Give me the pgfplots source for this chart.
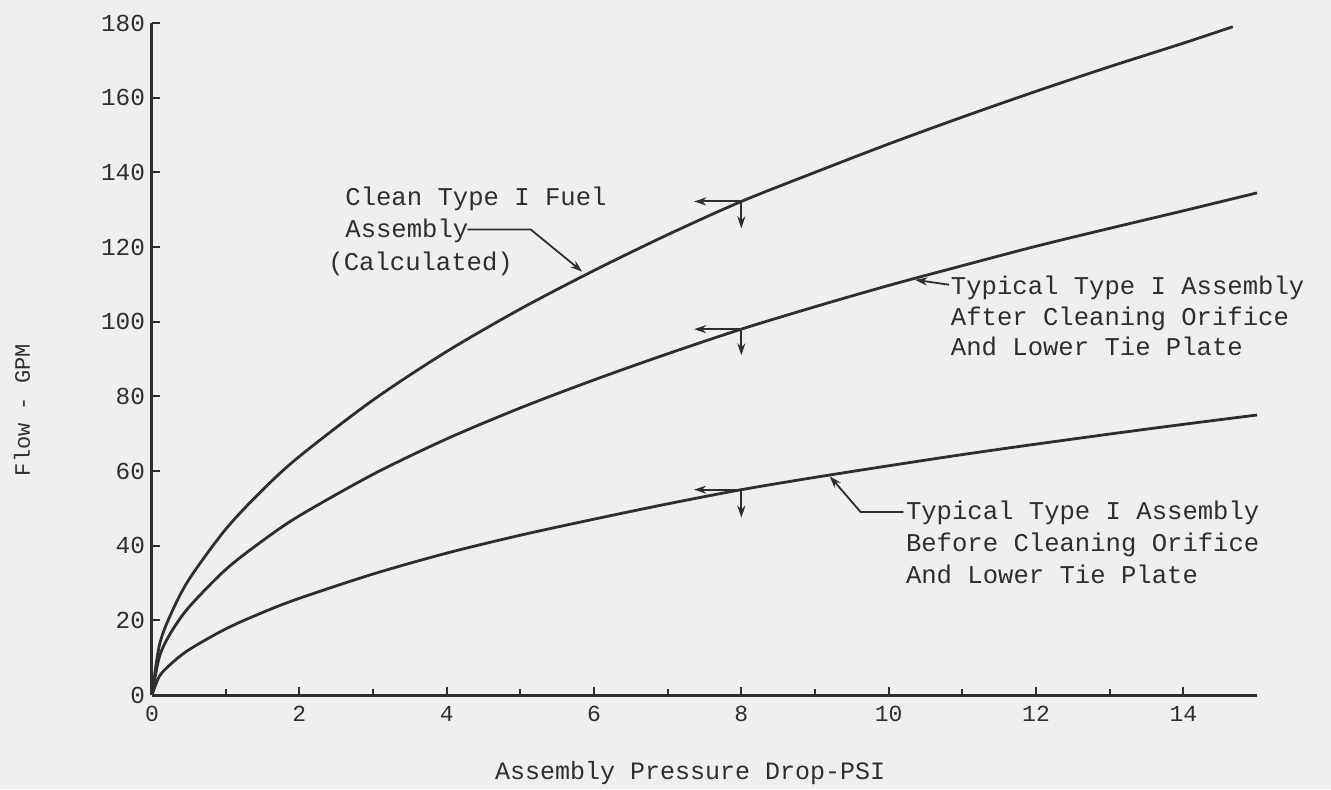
\documentclass[border=0pt]{standalone}
\usepackage{fontspec}
\setmainfont{Liberation Mono}
\usepackage{pgfplots}
\usepackage{pgfplotstable}
\pgfplotsset{compat=1.18}
\usetikzlibrary{arrows.meta}
\definecolor{ink}{HTML}{2E2E2E}
\definecolor{paper}{HTML}{EFEFEF}

\pgfplotstableread{
x y
0 0
0.1 13.3
0.25 21.4
0.5 30.9
1 44.4
1.5 54.9
2 63.9
3 79
4 92
5 103.4
6 113.7
7 123.3
8 132.2
9 140
10 147.6
11 154.8
12 161.7
13 168.3
14 174.6
14.67 179
}\clean

\pgfplotstableread{
x y
0 0
0.1 10.2
0.25 16.5
0.5 23.5
1 33.6
1.5 41.3
2 48
3 59.1
4 68.6
5 76.9
6 84.4
7 91.4
8 98
9 104
10 109.7
11 115
12 120.2
13 125
14 129.7
15 134.5
}\after

\pgfplotstableread{
x y
0 0
0.1 5
0.25 8.2
0.5 12.1
1 17.7
1.5 22.1
2 25.9
3 32.4
4 38
5 42.8
6 47.1
7 51.2
8 55
9 58.3
10 61.4
11 64.4
12 67.2
13 69.9
14 72.5
15 75
}\before

\newcommand{\lab}{\fontsize{12.8}{16.5}\selectfont}

\begin{document}
\begin{tikzpicture}
\fill[paper] (-76pt,-47pt) rectangle (589.5pt,347.5pt);
\begin{axis}[
  at={(0,0)}, anchor=south west,
  scale only axis, width=552.5pt, height=336pt,
  xmin=0, xmax=15, ymin=0, ymax=180,
  axis lines=left,
  axis line style={-, ink, line width=1.5pt},
  xtick={0,2,...,14}, minor xtick={1,3,...,13},
  ytick={0,20,...,180},
  tick pos=left,
  tick align=inside,
  major tick length=4pt, minor tick length=3pt,
  every tick/.style={ink, line width=1pt},
  /pgf/number format/assume math mode=true,
  x tick label style={font=\fontsize{11.5}{13}\selectfont, text=ink, yshift=-2pt},
  y tick label style={font=\fontsize{12.2}{14}\selectfont, text=ink},
  xlabel={Assembly Pressure Drop-PSI},
  ylabel={Flow - GPM},
  xlabel style={font=\fontsize{12.5}{14}\selectfont, text=ink, at={(axis description cs:0.487,-0.116)}, anchor=center},
  ylabel style={font=\fontsize{11}{13}\selectfont, text=ink, at={(axis description cs:-0.1176,0.424)}, anchor=center},
  clip=false,
]
\addplot[ink, line width=1.4pt, smooth] table {\clean};
\addplot[ink, line width=1.4pt, smooth] table {\after};
\addplot[ink, line width=1.4pt, smooth] table {\before};

% arrows at 8 psi
\draw[ink, line width=1pt, -{Stealth[length=6pt,width=4pt]}] (axis cs:8,132.2) -- (axis cs:7.36,132.2);
\draw[ink, line width=1pt, -{Stealth[length=6pt,width=4pt]}] (axis cs:8,132.2) -- (axis cs:8,125);
\draw[ink, line width=1pt, -{Stealth[length=6pt,width=4pt]}] (axis cs:8,98) -- (axis cs:7.36,98);
\draw[ink, line width=1pt, -{Stealth[length=6pt,width=4pt]}] (axis cs:8,98) -- (axis cs:8,91);
\draw[ink, line width=1pt, -{Stealth[length=6pt,width=4pt]}] (axis cs:8,55) -- (axis cs:7.36,55);
\draw[ink, line width=1pt, -{Stealth[length=6pt,width=4pt]}] (axis cs:8,55) -- (axis cs:8,47.5);

% top label
\node[anchor=base west, inner sep=0, text=ink, font=\lab] at (axis cs:2.62,131) {Clean Type I Fuel};
\node[anchor=base west, inner sep=0, text=ink, font=\lab] at (axis cs:2.62,122.6) {Assembly};
\node[anchor=base west, inner sep=0, text=ink, font=\lab] at (axis cs:2.39,113.7) {(Calculated)};
\draw[ink, line width=0.9pt, -{Stealth[length=6pt,width=4pt]}] (axis cs:4.28,124.7) -- (axis cs:5.14,124.7) -- (axis cs:5.84,113.4);

% middle label
\node[anchor=base west, inner sep=0, text=ink, font=\lab] at (axis cs:10.84,107.3) {Typical Type I Assembly};
\node[anchor=base west, inner sep=0, text=ink, font=\lab] at (axis cs:10.84,99) {After Cleaning Orifice};
\node[anchor=base west, inner sep=0, text=ink, font=\lab] at (axis cs:10.84,90.9) {And Lower Tie Plate};
\draw[ink, line width=0.9pt, -{Stealth[length=6pt,width=4pt]}] (axis cs:10.82,109.9) -- (axis cs:10.36,111.2);

% bottom label
\node[anchor=base west, inner sep=0, text=ink, font=\lab] at (axis cs:10.23,46.9) {Typical Type I Assembly};
\node[anchor=base west, inner sep=0, text=ink, font=\lab] at (axis cs:10.23,38.4) {Before Cleaning Orifice};
\node[anchor=base west, inner sep=0, text=ink, font=\lab] at (axis cs:10.23,29.9) {And Lower Tie Plate};
\draw[ink, line width=0.9pt, -{Stealth[length=6pt,width=4pt]}] (axis cs:10.2,49) -- (axis cs:9.62,49) -- (axis cs:9.2,58.6);
\end{axis}
\pgfresetboundingbox
\path (-76pt,-47pt) rectangle (589.5pt,347.5pt);
\end{tikzpicture}
\end{document}
